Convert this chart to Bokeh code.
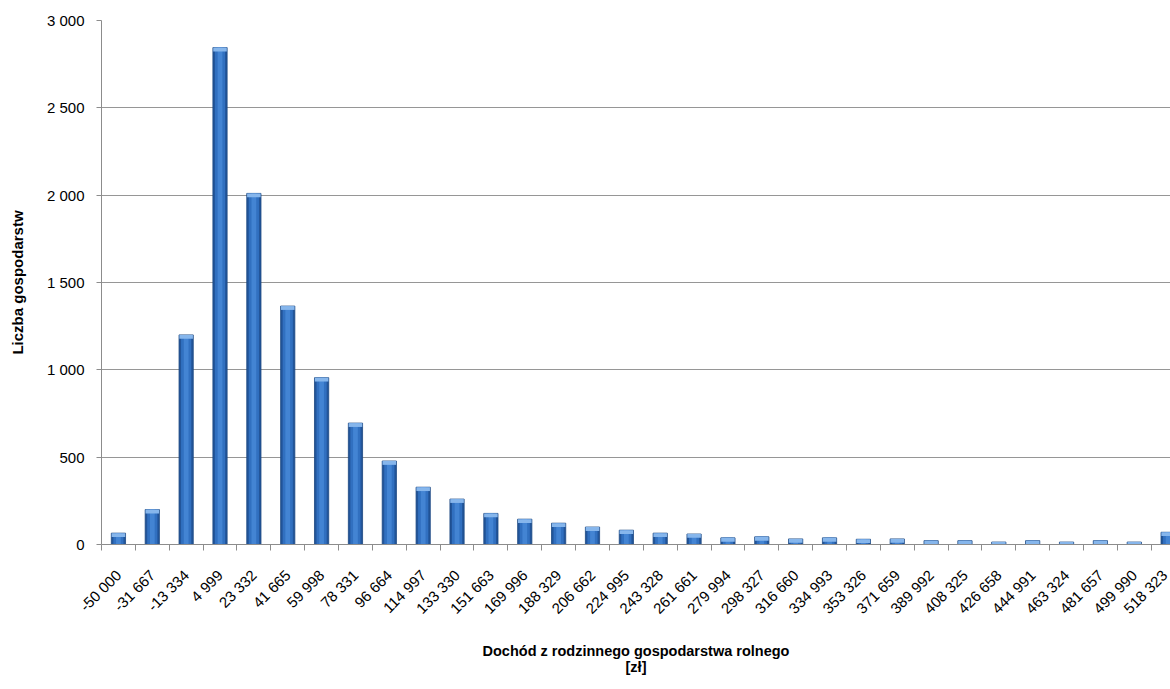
import math
from bokeh.plotting import figure
from bokeh.models import FixedTicker, Range1d, ColumnDataSource
from bokeh.embed import file_html
from bokeh.resources import INLINE

categories = ["-50 000", "-31 667", "-13 334", "4 999", "23 332", "41 665", "59 998",
              "78 331", "96 664", "114 997", "133 330", "151 663", "169 996", "188 329",
              "206 662", "224 995", "243 328", "261 661", "279 994", "298 327", "316 660",
              "334 993", "353 326", "371 659", "389 992", "408 325", "426 658", "444 991",
              "463 324", "481 657", "499 990", "518 323"]
counts = [65, 200, 1200, 2845, 2010, 1365, 955, 695, 478, 328, 260, 178, 145, 122,
          100, 82, 65, 60, 38, 44, 32, 38, 30, 32, 22, 22, 14, 22, 14, 22, 14, 70]
y_ticks = [0, 500, 1000, 1500, 2000, 2500, 3000]
y_tick_labels = ["0", "500", "1 000", "1 500", "2 000", "2 500", "3 000"]
y_title = "Liczba gospodarstw"
x_title = "Dochód z rodzinnego gospodarstwa rolnego\n[zł]"

FONT = "Liberation Sans"

xs = list(range(len(categories)))
cap = [min(c, 22) for c in counts]
src = ColumnDataSource(dict(x=xs, top=counts, cap_bottom=[c - k for c, k in zip(counts, cap)]))

p = figure(width=1170, height=689, output_backend="svg", toolbar_location=None,
           x_range=Range1d(-0.5, len(categories) - 0.93), y_range=Range1d(0, 3000),
           min_border_left=101, min_border_top=20, min_border_bottom=145, min_border_right=0)
p.outline_line_color = None
p.background_fill_color = "white"
p.border_fill_color = "white"

# bars (cylinder-like look)
p.vbar(x="x", top="top", bottom=0, width=0.42, source=src,
       fill_color="#22559A", line_color="#1B4680", line_width=0.8)
p.vbar(x="x", top="top", bottom=0, width=0.30, source=src,
       fill_color="#3170C0", line_color=None)
p.vbar(x="x", top="top", bottom=0, width=0.14, source=src,
       fill_color="#4384D3", line_color=None)
p.vbar(x="x", top="top", bottom="cap_bottom", width=0.40, source=src,
       fill_color="#86B6EC", line_color=None)

# y axis
p.yaxis.ticker = FixedTicker(ticks=y_ticks)
p.yaxis.major_label_overrides = {t: l for t, l in zip(y_ticks, y_tick_labels)}
p.yaxis.minor_tick_line_color = None
p.yaxis.major_tick_out = 5
p.yaxis.major_tick_in = 0
p.yaxis.axis_line_color = "#8C8C8C"
p.yaxis.major_tick_line_color = "#8C8C8C"
p.yaxis.major_label_text_font = FONT
p.yaxis.major_label_text_font_size = "15px"
p.yaxis.major_label_text_color = "#000000"
p.yaxis.major_label_standoff = 12
p.yaxis.axis_label = y_title
p.yaxis.axis_label_text_font = FONT
p.yaxis.axis_label_text_font_style = "bold"
p.yaxis.axis_label_text_font_size = "15px"
p.yaxis.axis_label_text_color = "#000000"
p.yaxis.axis_label_standoff = 18

# x axis
p.xaxis.ticker = FixedTicker(ticks=xs, minor_ticks=[i - 0.5 for i in xs] + [len(xs) - 0.5])
p.xaxis.major_label_overrides = {i: c for i, c in zip(xs, categories)}
p.xaxis.major_tick_out = 0
p.xaxis.major_tick_in = 0
p.xaxis.minor_tick_out = 6
p.xaxis.minor_tick_in = 0
p.xaxis.minor_tick_line_color = "#8C8C8C"
p.xaxis.axis_line_color = "#8C8C8C"
p.xaxis.major_label_orientation = math.pi / 4
p.xaxis.major_label_text_font = FONT
p.xaxis.major_label_text_font_size = "15px"
p.xaxis.major_label_text_color = "#000000"
p.xaxis.major_label_standoff = 22
p.xaxis.axis_label = x_title
p.xaxis.axis_label_text_font = FONT
p.xaxis.axis_label_text_font_style = "bold"
p.xaxis.axis_label_text_font_size = "14.5px"
p.xaxis.axis_label_text_color = "#000000"
p.xaxis.axis_label_standoff = 17
p.xaxis.axis_label_text_line_height = 1.0

p.xgrid.grid_line_color = None
p.ygrid.grid_line_color = "#969696"
p.ygrid.grid_line_width = 1

open("out.html", "w").write(file_html(p, INLINE))
